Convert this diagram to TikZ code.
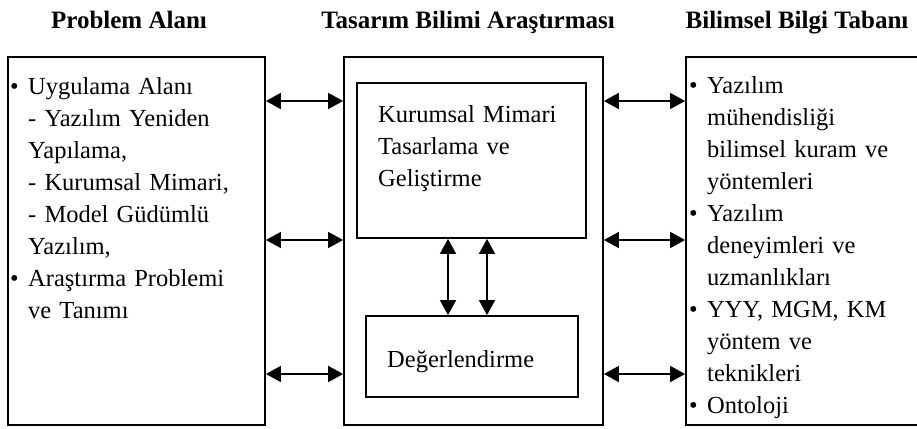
\documentclass[tikz,border=0pt]{standalone}
\usepackage{fontspec}
\setmainfont{Liberation Serif}
\usetikzlibrary{arrows.meta,calc}
\newcommand{\bul}{\leavevmode\llap{\makebox[18pt][l]{•}}}
\tikzset{
  frame/.style={draw, line width=1.8pt, inner sep=0pt},
  body/.style={anchor=base west, inner sep=0pt, text width=240pt, align=left,
    font=\fontsize{24.5}{32}\selectfont},
  head/.style={anchor=base, inner sep=0pt, font=\fontsize{25}{30}\selectfont\bfseries},
  link/.style={line width=1.8pt, {Triangle[length=15pt,width=16pt]}-{Triangle[length=15pt,width=16pt]}}
}
\begin{document}
\begin{tikzpicture}[x=1pt, y=-1pt]
  \useasboundingbox (0,0) rectangle (917,428);
  \clip (0,0) rectangle (917,428);

  % column headings
  \node[head] (h1) at (129,29) {Problem Alanı};
  \node[head] (h2) at (468,29) {Tasarım Bilimi Araştırması};
  \node[head] (h3) at (797,29) {Bilimsel Bilgi Tabanı};

  % outer boxes
  \node[frame, minimum width=257pt, minimum height=368pt] (L) at (136.5,241) {};
  \node[frame, minimum width=259pt, minimum height=368pt] (M) at (473.5,241) {};
  \node[frame, minimum width=244pt, minimum height=368pt] (R) at (808,241) {};

  % inner boxes of the design science column
  \node[frame, minimum width=229pt, minimum height=155pt] (T) at (471.5,160.5) {};
  \node[frame, minimum width=212pt, minimum height=81pt] (B) at (472,356.5) {};

  % box contents
  \node[body] (lt) at (28,94) {\bul Uygulama Alanı\\
    - Yazılım Yeniden\\
    Yapılama,\\
    - Kurumsal Mimari,\\
    - Model Güdümlü\\
    Yazılım,\\
    \bul Araştırma Problemi\\
    ve Tanımı};
  \node[body] (tt) at (378,122) {Kurumsal Mimari\\Tasarlama ve\\Geliştirme};
  \node[body] (bt) at (387,367) {Değerlendirme};
  \node[body] (rt) at (707,93) {\bul Yazılım\\
    mühendisliği\\
    bilimsel kuram ve\\
    yöntemleri\\
    \bul Yazılım\\
    deneyimleri ve\\
    uzmanlıkları\\
    \bul YYY, MGM, KM\\
    yöntem ve\\
    teknikleri\\
    \bul Ontoloji};

  % two-way links between the columns
  \foreach \y in {101,240,374} {
    \draw[link] (L.east |- 0,\y) -- (M.west |- 0,\y);
    \draw[link] (M.east |- 0,\y) -- (R.west |- 0,\y);
  }
  % two-way links between design and evaluation
  \foreach \x in {448,487}
    \draw[link] (T.south -| \x,0) -- (B.north -| \x,0);
\end{tikzpicture}
\end{document}
